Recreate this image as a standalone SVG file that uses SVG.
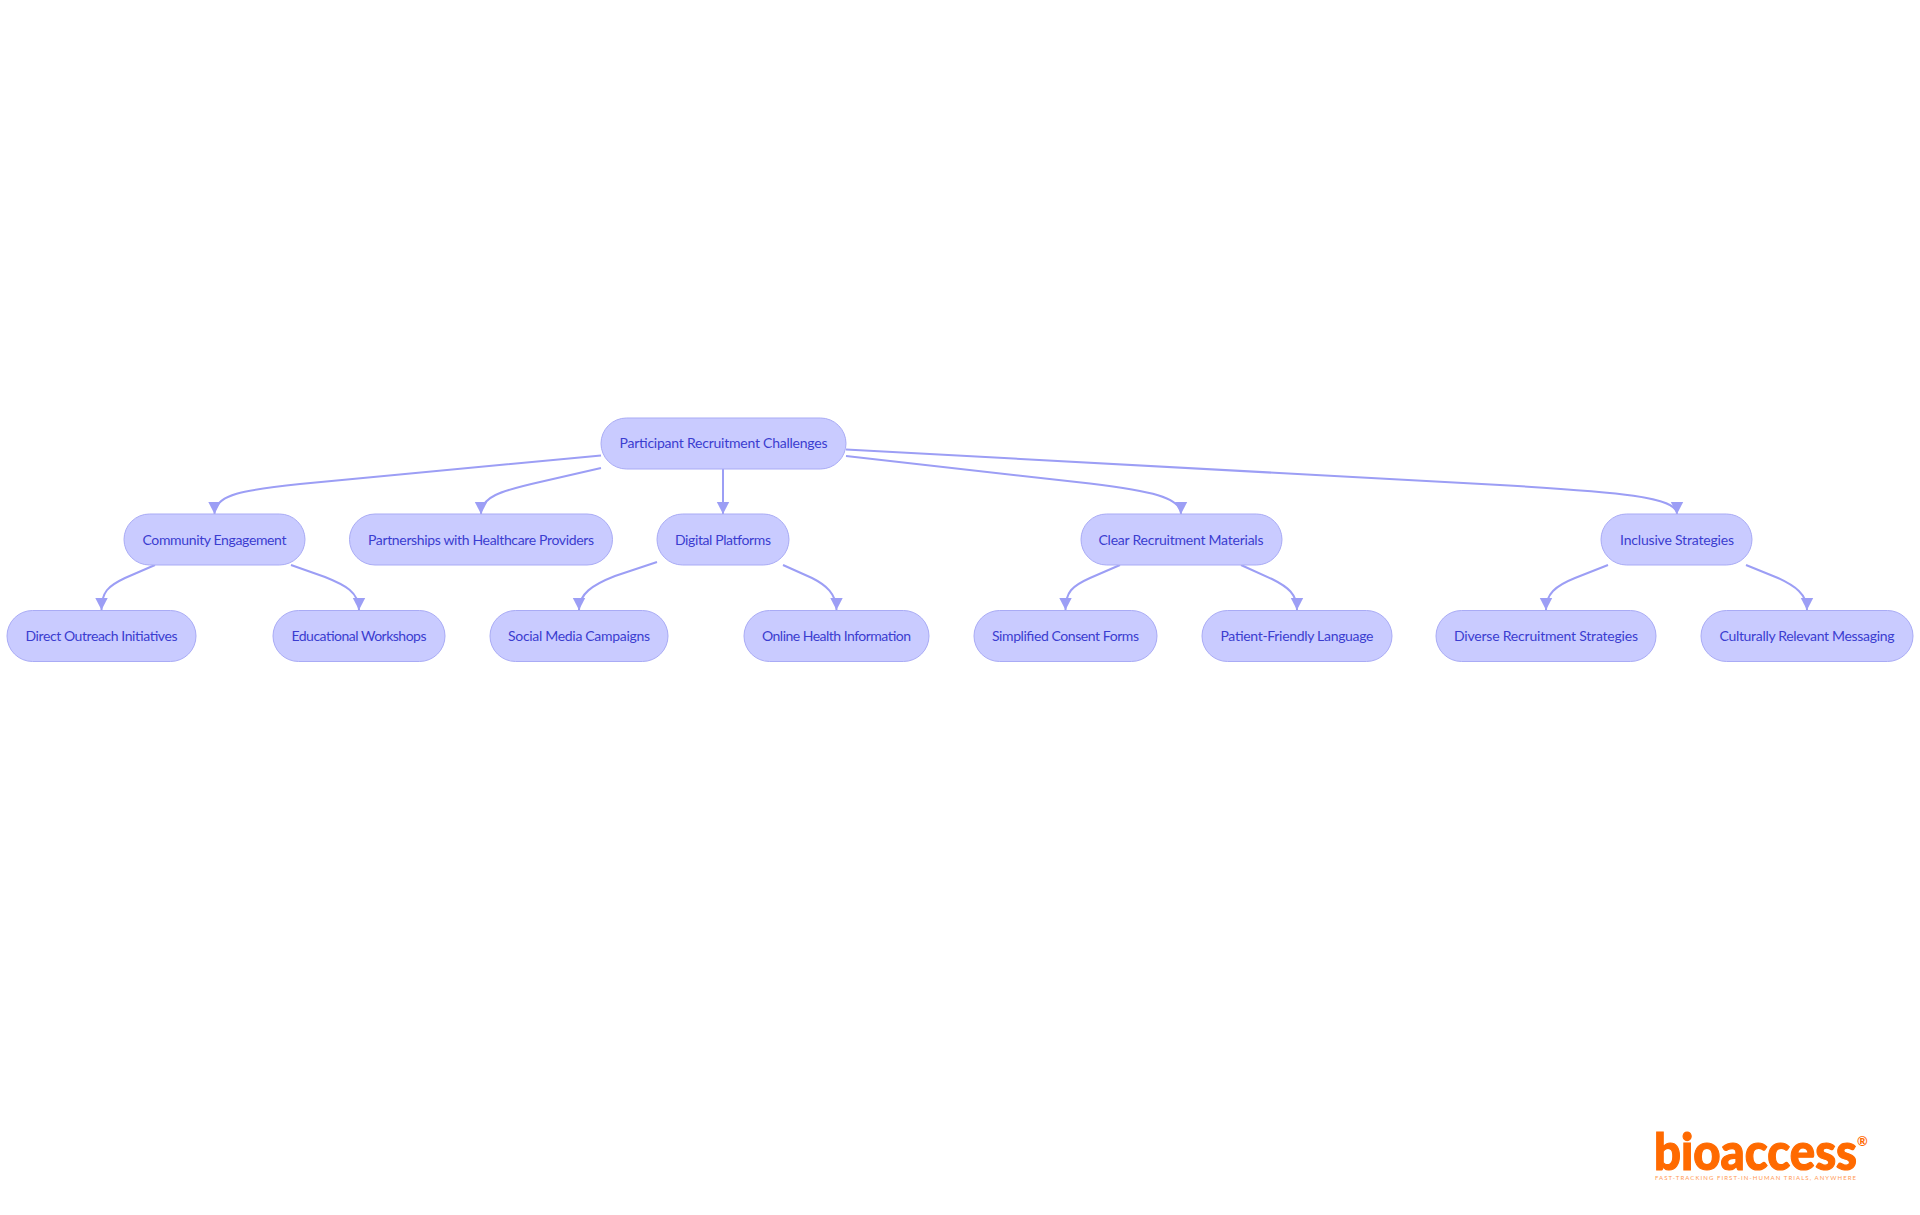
<svg xmlns="http://www.w3.org/2000/svg" width="1920" height="1215" viewBox="0 0 1920 1215">
<style>
.n rect{fill:#c9cbff;stroke:#a9abf5;stroke-width:1}
.n text{font-family:Lato,"Noto Sans",sans-serif;font-size:14px;fill:#3b3dd0;text-anchor:middle;dominant-baseline:central}
#edges path{fill:none;stroke:#9c9ef5;stroke-width:2;marker-end:url(#a)}
</style>
<defs><marker id="a" markerUnits="userSpaceOnUse" markerWidth="14" markerHeight="14" refX="12" refY="7" orient="auto"><path d="M0,0.8L12,7L0,13.2z" fill="#9c9ef5"/></marker></defs>
<rect width="1920" height="1215" fill="#fff"/>
<g id="edges">
<path d="M601,455.5L300,484C245,490 214.5,494 214.5,514"/>
<path d="M601,468L540,482C500,491 481,497 481,514"/>
<path d="M723,469V514"/>
<path d="M846,456L1090,483.5C1150,491 1181,497 1181,514"/>
<path d="M846,449.5L1500,485C1620,492 1677,497 1677,514"/>
<path d="M155,565L125,578C108,586 101.5,592 101.5,610"/>
<path d="M291,565L325,577C345,585 359,592 359,610"/>
<path d="M657,562L615,576C592,585 579,594 579,610"/>
<path d="M783,565L812,578C826,585 836.5,594 836.5,610"/>
<path d="M1120,565L1090,578C1072,586 1065.5,592 1065.5,610"/>
<path d="M1241,565L1272,579C1288,587 1297,594 1297,610"/>
<path d="M1608,565L1575,578C1555,586 1546,594 1546,610"/>
<path d="M1746,565L1778,578C1795,586 1807,594 1807,610"/>
</g>
<g id="n0" class="n"><rect x="601" y="418" width="245" height="51" rx="25.5"/><text x="723.5" y="442.5" textLength="208">Participant Recruitment Challenges</text></g>
<g id="n1" class="n"><rect x="124" y="514" width="181" height="51" rx="25.5"/><text x="214.5" y="539" textLength="144">Community Engagement</text></g>
<g id="n2" class="n"><rect x="349.5" y="514" width="263" height="51" rx="25.5"/><text x="481" y="539" textLength="226">Partnerships with Healthcare Providers</text></g>
<g id="n3" class="n"><rect x="657" y="514" width="132" height="51" rx="25.5"/><text x="723" y="539" textLength="96">Digital Platforms</text></g>
<g id="n4" class="n"><rect x="1081" y="514" width="201" height="51" rx="25.5"/><text x="1181" y="539" textLength="165">Clear Recruitment Materials</text></g>
<g id="n5" class="n"><rect x="1601" y="514" width="151" height="51" rx="25.5"/><text x="1677" y="539" textLength="114">Inclusive Strategies</text></g>
<g id="n6" class="n"><rect x="7" y="610.5" width="189" height="51" rx="25.5"/><text x="101.5" y="635" textLength="152">Direct Outreach Initiatives</text></g>
<g id="n7" class="n"><rect x="273" y="610.5" width="172" height="51" rx="25.5"/><text x="359" y="635" textLength="135">Educational Workshops</text></g>
<g id="n8" class="n"><rect x="490" y="610.5" width="178" height="51" rx="25.5"/><text x="579" y="635" textLength="142">Social Media Campaigns</text></g>
<g id="n9" class="n"><rect x="744" y="610.5" width="185" height="51" rx="25.5"/><text x="836.5" y="635" textLength="149">Online Health Information</text></g>
<g id="n10" class="n"><rect x="974" y="610.5" width="183" height="51" rx="25.5"/><text x="1065.5" y="635" textLength="147">Simplified Consent Forms</text></g>
<g id="n11" class="n"><rect x="1202" y="610.5" width="190" height="51" rx="25.5"/><text x="1297" y="635" textLength="153">Patient-Friendly Language</text></g>
<g id="n12" class="n"><rect x="1436" y="610.5" width="220" height="51" rx="25.5"/><text x="1546" y="635" textLength="184">Diverse Recruitment Strategies</text></g>
<g id="n13" class="n"><rect x="1701" y="610.5" width="212" height="51" rx="25.5"/><text x="1807" y="635" textLength="175">Culturally Relevant Messaging</text></g>
<g id="logo" fill="#ff6a00" font-family="Lato,Inter,sans-serif">
<text x="1654" y="1170" font-size="52" font-weight="900" stroke="#ff6a00" stroke-width="1.2" textLength="203" lengthAdjust="spacingAndGlyphs">bioaccess</text>
<text x="1857" y="1146" font-size="13" font-weight="700">®</text>
<text x="1655" y="1180" font-size="6" font-weight="400" textLength="201" fill="#ff9a55">FAST-TRACKING FIRST-IN-HUMAN TRIALS, ANYWHERE</text>
</g>
</svg>
